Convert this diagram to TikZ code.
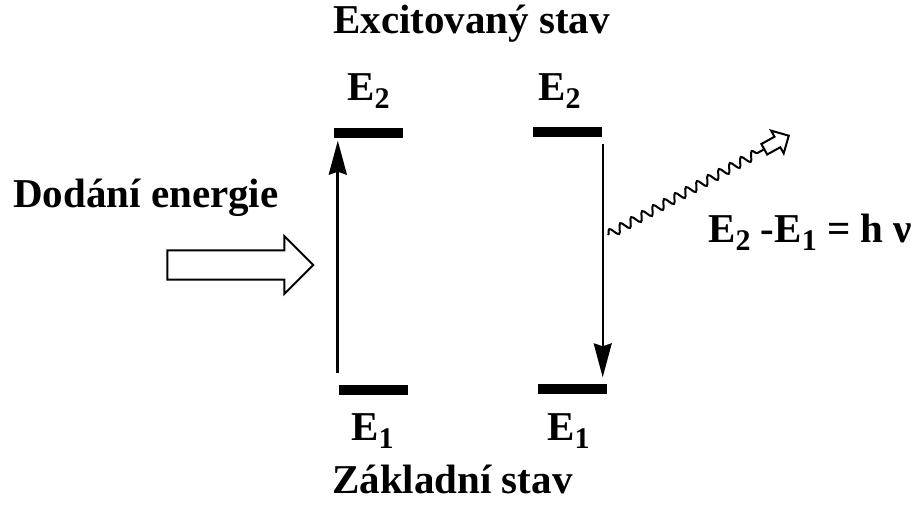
\documentclass[tikz,border=0pt]{standalone}
\usepackage{fontspec}
\setmainfont{Liberation Serif}
\usetikzlibrary{arrows.meta,shapes.arrows,decorations.pathmorphing}
\newcommand\idx[1]{\raisebox{-8pt}{\fontsize{30}{30}\selectfont #1}}
\tikzset{
  lbl/.style={inner sep=0pt, anchor=base west, font=\fontsize{41}{46}\selectfont\bfseries},
  level/.style={fill=black, inner sep=0pt, minimum width=69pt, minimum height=10pt},
  uparr/.style={line width=2.8pt, -{Stealth[length=34pt,width=18pt,inset=3pt]}, shorten >=2pt},
  downarr/.style={line width=1.8pt, -{Stealth[length=34pt,width=18pt,inset=3pt]}, shorten >=6pt},
  hollow/.style={single arrow, draw, line width=2pt, inner sep=0pt, single arrow head indent=0pt},
  photon/.style={line width=2pt, decorate,
    decoration={snake, amplitude=4.5pt, segment length=12.5pt, post length=3pt}}
}
\begin{document}
\begin{tikzpicture}[x=1pt,y=-1pt]
      \useasboundingbox (0,0) rectangle (921,505);

      % Hladiny
      \node[level] (e2l) at (368.5,133.5) {};
      \node[level] (e2r) at (567.5,132) {};
      \node[level] (g1l) at (373.5,390) {};
      \node[level] (g1r) at (572,388.5) {};

      % Popisky
      \node[lbl] (exc) at (333,34) {Excitovaný stav};
      \node[lbl] (e2ltxt) at (347,101) {E\idx{2}};
      \node[lbl] (e2rtxt) at (538,101) {E\idx{2}};
      \node[lbl] (supplytxt) at (13,208) {Dodání energie};
      \node[lbl] (eqtxt) at (708,243) {E\idx{2} -E\idx{1} = h ν};
      \node[lbl] (e1ltxt) at (351,440) {E\idx{1}};
      \node[lbl] (e1rtxt) at (547,440) {E\idx{1}};
      \node[lbl] (gnd) at (332,493) {Základní stav};

      % Dodani energie
      \node[hollow, inner ysep=13.5pt, single arrow head extend=14.5pt,
            minimum height=146pt] (supply) at (233,265) {};

      % Prechody
      \draw[uparr] ([xshift=-1pt,yshift=12pt]g1l.north west) coordinate (up0) -- (up0 |- e2l.south);
      \draw[downarr] ([xshift=0.5pt,yshift=-7pt]e2r.south east) coordinate (dn0) -- (dn0 |- g1r.north);

      % Foton
      \coordinate (emit) at (608,235);
      \node[hollow, inner ysep=5pt, single arrow head extend=7pt, minimum height=28pt,
            rotate=29, anchor=tip] (phtip) at (790,135) {};
      \draw[photon] (emit) -- (phtip.tail);
\end{tikzpicture}
\end{document}
